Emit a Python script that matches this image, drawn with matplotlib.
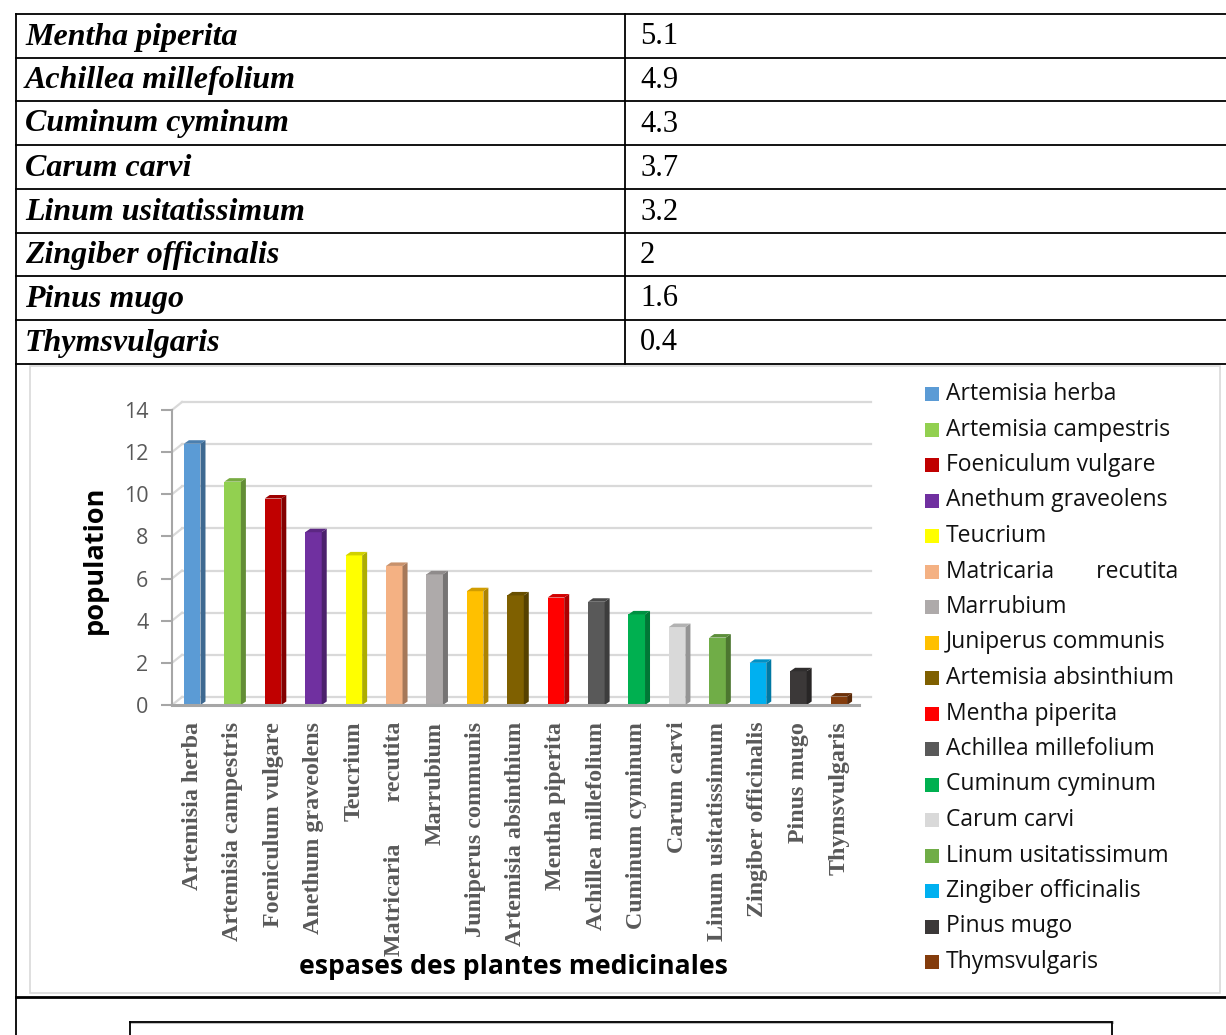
import matplotlib
matplotlib.use("Agg")
import matplotlib.pyplot as plt
from matplotlib.lines import Line2D
from matplotlib.patches import Polygon, Rectangle
import matplotlib.colors as mcolors
import numpy as np

# ---------------- data ----------------
categories = ["Artemisia herba", "Artemisia campestris", "Foeniculum vulgare",
              "Anethum graveolens", "Teucrium", "Matricaria       recutita", "Marrubium",
              "Juniperus communis", "Artemisia absinthium", "Mentha piperita",
              "Achillea millefolium", "Cuminum cyminum", "Carum carvi",
              "Linum usitatissimum", "Zingiber officinalis", "Pinus mugo", "Thymsvulgaris"]
values = [12.4, 10.6, 9.8, 8.2, 7.1, 6.6, 6.2, 5.4, 5.2, 5.1, 4.9, 4.3, 3.7, 3.2, 2, 1.6, 0.4]
colors = ["#5B9BD5", "#92D050", "#C00000", "#7030A0", "#FFFF00", "#F4B183", "#AEAAAA",
          "#FFC000", "#7F6000", "#FF0000", "#595959", "#00B050", "#D9D9D9", "#70AD47",
          "#00B0F0", "#3B3838", "#843C0C"]
yticks = [0, 2, 4, 6, 8, 10, 12, 14]

table_names = ["Mentha piperita", "Achillea millefolium", "Cuminum cyminum", "Carum carvi",
               "Linum usitatissimum", "Zingiber officinalis", "Pinus mugo", "Thymsvulgaris"]
table_values = ["5.1", "4.9", "4.3", "3.7", "3.2", "2", "1.6", "0.4"]

x_title = "espases des plantes medicinales"
y_title = "population"

# ---------------- figure ----------------
W, H = 1226, 1035
fig = plt.figure(figsize=(W / 100, H / 100), dpi=100)
fig.patch.set_facecolor("white")

def fx(x):
    return x / W

def fy(y):
    return 1 - y / H

def fline(x0, y0, x1, y1, color="black", lw=1.2):
    fig.add_artist(Line2D([fx(x0), fx(x1)], [fy(y0), fy(y1)], transform=fig.transFigure,
                          color=color, lw=lw, solid_capstyle="projecting"))

# ---------------- table ----------------
row_lines = [14, 58, 101, 145, 189, 233, 276, 320, 364]
for yl in row_lines:
    fline(16, yl, 1226, yl, lw=1.3)
fline(16, 14, 16, 1035, lw=1.3)
fline(625, 14, 625, 364, lw=1.3)
for i, (name, val) in enumerate(zip(table_names, table_values)):
    yc = (row_lines[i] + row_lines[i + 1]) / 2 + 1
    fig.text(fx(25), fy(yc), name, fontsize=23, family="Liberation Serif",
             weight="bold", style="italic", va="center", ha="left")
    fig.text(fx(640), fy(yc), val, fontsize=22, family="Liberation Serif",
             va="center", ha="left")

# chart outer box (light gray)
fig.add_artist(Rectangle((fx(30), fy(993)), fx(1220) - fx(30), fy(366) - fy(993),
                         transform=fig.transFigure, fill=False, ec="#D9D9D9", lw=1.2))

# bottom part
fline(16, 997, 1226, 997, lw=2)
fline(131, 1022, 1112, 1022, color="#BFBFBF", lw=2.2)
fline(130, 1022, 1111, 1022, lw=1.3)
fline(130, 1022, 130, 1035, lw=1.3)
fline(1112, 1022, 1112, 1035, lw=1.3)

# ---------------- chart ----------------
ax_l, ax_r, ax_t, ax_b = 172, 859, 410, 705
ax = fig.add_axes([fx(ax_l), fy(ax_b), (ax_r - ax_l) / W, (ax_b - ax_t) / H])
n = len(categories)
ax.set_xlim(-0.5, n - 0.5)
ax.set_ylim(0, 14)
ax.set_facecolor("none")
xpp = n / (ax_r - ax_l)          # data units per pixel (x)
ypp = 14 / (ax_b - ax_t)         # data units per pixel (y)

# back wall gridlines
gdx, gdy = 10 * xpp, 8 * ypp
for t in yticks:
    ax.plot([-0.5, -0.5 + gdx], [t, t + gdy], color="#D9D9D9", lw=1.6, clip_on=False, zorder=1)
    ax.plot([-0.5 + gdx, n - 0.5 + 12 * xpp], [t + gdy, t + gdy], color="#D9D9D9", lw=1.6,
            clip_on=False, zorder=1)

xs = np.arange(n)
bw = 0.41
bars = ax.bar(xs, values, width=bw, color=colors, zorder=3, clip_on=False)
ddx, ddy = 5 * xpp, 3.5 * ypp

def shade(c, f):
    r, g, b = mcolors.to_rgb(c)
    return (r * f, g * f, b * f)

for xi, v, c in zip(xs, values, colors):
    xl, xr = xi - bw / 2, xi + bw / 2
    side = Polygon([(xr, 0), (xr + ddx, ddy), (xr + ddx, v + ddy), (xr, v)],
                   closed=True, fc=shade(c, 0.68), ec="none", zorder=3, clip_on=False)
    top = Polygon([(xl, v), (xr, v), (xr + ddx, v + ddy), (xl + ddx, v + ddy)],
                  closed=True, fc=shade(c, 0.82), ec="none", zorder=3, clip_on=False)
    ax.add_patch(side)
    ax.add_patch(top)

for s in ["top", "right"]:
    ax.spines[s].set_visible(False)
ax.spines["left"].set_color("#A6A6A6")
ax.spines["left"].set_linewidth(1.5)
ax.spines["bottom"].set_color("#A6A6A6")
ax.spines["bottom"].set_linewidth(2.2)
ax.spines["bottom"].set_zorder(4)

ax.set_yticks(yticks)
ax.tick_params(axis="y", length=8, width=1.5, color="#A6A6A6", labelcolor="#595959",
               labelsize=15.5, pad=9)
for lab in ax.get_yticklabels():
    lab.set_family("Open Sans")

ax.set_xticks(xs)
ax.set_xticklabels(categories, rotation=90, family="Liberation Serif", weight="bold",
                   color="#595959", fontsize=17.3, va="top", ha="center")
ax.tick_params(axis="x", length=0, pad=12)

fig.text(fx(95), fy(560), y_title, rotation=90, fontsize=19.5, weight="bold",
         family="Open Sans", ha="center", va="center")
fig.text(fx(513), fy(967), x_title, fontsize=19.1, weight="bold",
         family="Open Sans", ha="center", va="center")

# legend
leg_y0, leg_dy = 394, 35.5
for i, (name, c) in enumerate(zip(categories, colors)):
    yc = leg_y0 + i * leg_dy
    fig.add_artist(Rectangle((fx(925), fy(yc + 7)), 14 / W, 14 / H,
                             transform=fig.transFigure, fc=c, ec="none"))
    fig.text(fx(946), fy(yc), name, fontsize=16.5, family="Open Sans", color="#111111",
             ha="left", va="center")

fig.savefig("out.png", dpi=100)
